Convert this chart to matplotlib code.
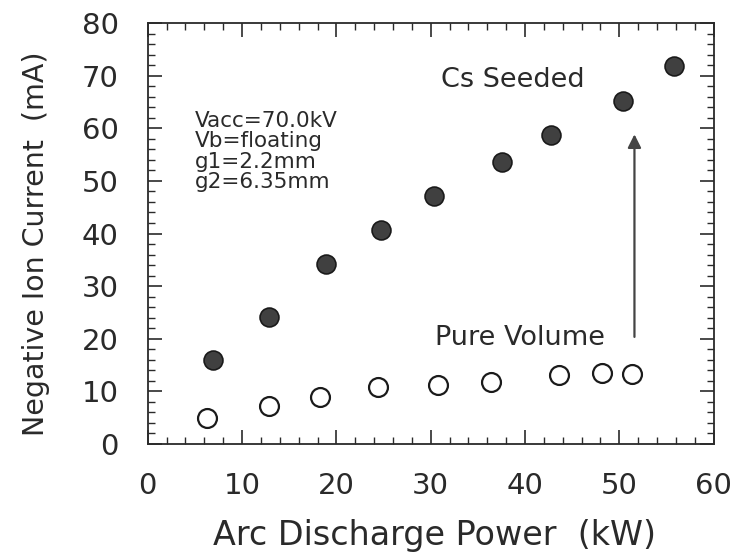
import numpy as np
import matplotlib.pyplot as plt
from matplotlib.ticker import MultipleLocator

plt.rcParams['font.family'] = ['DejaVu Sans']

# Cs seeded (filled) and pure volume (open) data
cs_power = [6.9, 12.9, 18.9, 24.7, 30.4, 37.6, 42.7, 50.4, 55.8]
cs_current = [15.9, 24.2, 34.2, 40.7, 47.1, 53.6, 58.8, 65.3, 71.9]
pv_power = [6.3, 12.9, 18.3, 24.4, 30.8, 36.4, 43.6, 48.2, 51.3]
pv_current = [4.9, 7.1, 8.9, 10.8, 11.1, 11.7, 13.0, 13.4, 13.3]

conditions = ['Vacc=70.0kV', 'Vb=floating', 'g1=2.2mm', 'g2=6.35mm']
ink = '#2a2a2a'

fig = plt.figure(figsize=(7.35, 5.54), dpi=100)
ax = fig.add_axes([0.201, 0.199, 0.770, 0.759])

ax.scatter(cs_power, cs_current, s=185, facecolor='#404040', edgecolor='#1a1a1a',
           linewidth=1.2, zorder=3)
ax.scatter(pv_power, pv_current, s=185, facecolor='white', edgecolor='#1a1a1a',
           linewidth=1.6, zorder=3)

ax.annotate('', xy=(51.6, 59.4), xytext=(51.6, 19.8),
            arrowprops=dict(arrowstyle='-|>', color='#444444', lw=1.6,
                            mutation_scale=20))

ax.text(38.7, 69.3, 'Cs Seeded', fontsize=19.5, color=ink, ha='center', va='center')
ax.text(39.5, 20.2, 'Pure Volume', fontsize=19.5, color=ink, ha='center', va='center')
ax.text(5.0, 63.3, '\n'.join(conditions), fontsize=15.5, color=ink, ha='left',
        va='top', linespacing=1.02)

ax.set_xlim(0, 60)
ax.set_ylim(0, 80)
ax.xaxis.set_major_locator(MultipleLocator(10))
ax.xaxis.set_minor_locator(MultipleLocator(2))
ax.yaxis.set_major_locator(MultipleLocator(10))
ax.yaxis.set_minor_locator(MultipleLocator(2))
ax.tick_params(which='both', direction='in', top=True, right=True, color=ink)
ax.tick_params(which='major', length=10, width=1.2, labelsize=21, labelcolor=ink)
ax.tick_params(axis='x', which='major', pad=20)
ax.tick_params(axis='y', which='major', pad=21)
ax.tick_params(which='minor', length=5, width=1.0)
for sp in ax.spines.values():
    sp.set_linewidth(1.3)
    sp.set_color(ink)

ax.set_xlabel('Arc Discharge Power  (kW)', fontsize=24, color=ink)
ax.set_ylabel('Negative Ion Current  (mA)', fontsize=20.5, color=ink)
ax.xaxis.set_label_coords(0.507, -0.178)
ax.yaxis.set_label_coords(-0.172, 0.475)

fig.savefig('out.png', dpi=100)
